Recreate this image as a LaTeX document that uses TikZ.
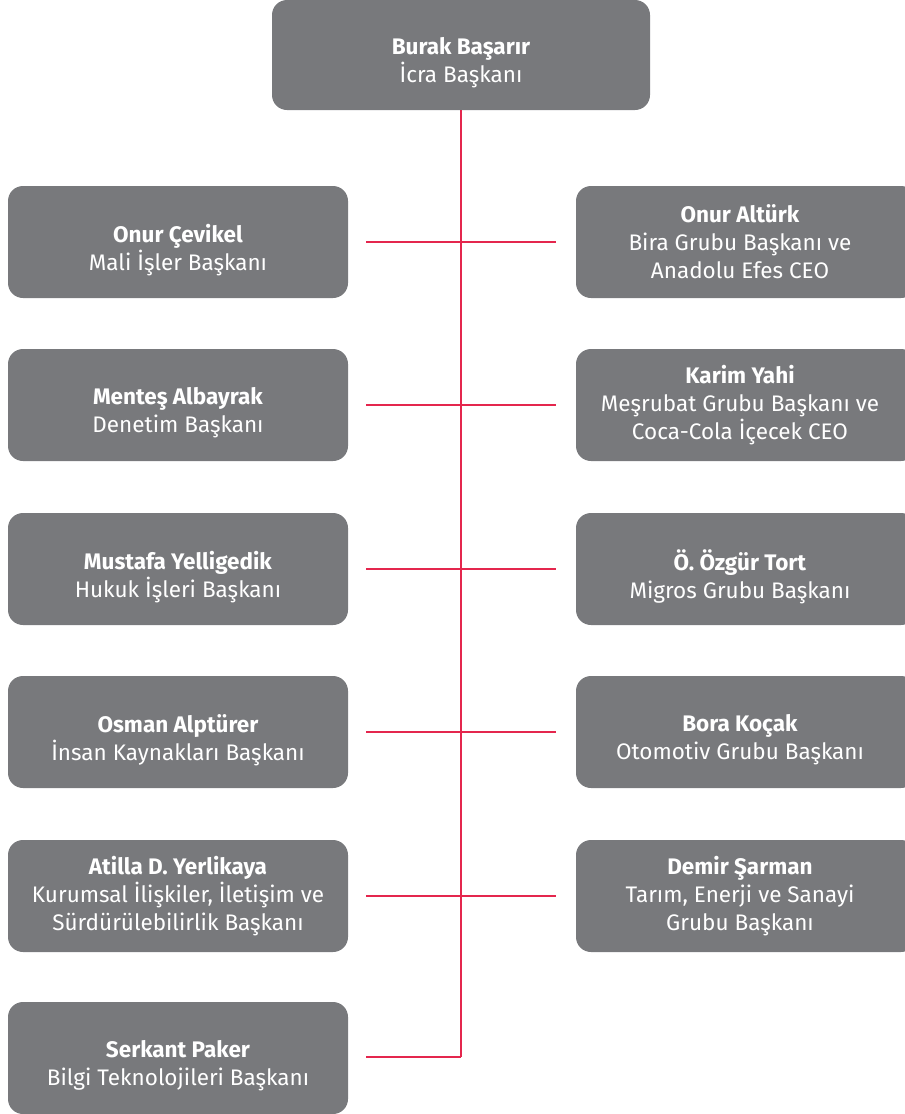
\documentclass[tikz,border=0pt]{standalone}
\usepackage{fontspec}
\setmainfont{Fira Sans}
\definecolor{boxgray}{HTML}{78797C}
\definecolor{linered}{HTML}{E4264D}
\begin{document}
\begin{tikzpicture}[x=1pt,y=-1pt,
  box/.style={fill=boxgray,rounded corners=15pt,minimum width=340pt,minimum height=112pt,inner sep=0pt},
  txt/.style={text=white,align=center,font=\fontsize{22.5}{28}\selectfont},
  two/.style={txt,yshift=-8pt},
  conn/.style={draw=linered,line width=1.6pt}]
\useasboundingbox (0,0) rectangle (905,1114);
\clip (0,0) rectangle (905,1114);
% top
\node[box,minimum width=378pt,minimum height=110pt] (top) at (461,55) {};
\node[two] (topt) at (461,55) {\textbf{Burak Başarır}\\İcra Başkanı};
% left column
\node[box] (L1) at (178,242) {};
\node[two] (L1t) at (178,242) {\textbf{Onur Çevikel}\\Mali İşler Başkanı};
\node[box] (L2) at (178,405) {};
\node[two] (L2t) at (178,405) {\textbf{Menteş Albayrak}\\Denetim Başkanı};
\node[box] (L3) at (178,569) {};
\node[two] (L3t) at (178,569) {\textbf{Mustafa Yelligedik}\\Hukuk İşleri Başkanı};
\node[box] (L4) at (178,732) {};
\node[two] (L4t) at (178,732) {\textbf{Osman Alptürer}\\İnsan Kaynakları Başkanı};
\node[box] (L5) at (178,896) {};
\node[txt] (L5t) at (178,896) {\textbf{Atilla D. Yerlikaya}\\Kurumsal İlişkiler, İletişim ve\\Sürdürülebilirlik Başkanı};
\node[box] (L6) at (178,1058) {};
\node[two] (L6t) at (178,1058) {\textbf{Serkant Paker}\\Bilgi Teknolojileri Başkanı};
% right column
\node[box] (R1) at (746,242) {};
\node[txt] (R1t) at (740,242) {\textbf{Onur Altürk}\\Bira Grubu Başkanı ve\\Anadolu Efes CEO};
\node[box] (R2) at (746,405) {};
\node[txt] (R2t) at (740,405) {\textbf{Karim Yahi}\\Meşrubat Grubu Başkanı ve\\Coca-Cola İçecek CEO};
\node[box] (R3) at (746,569) {};
\node[two] (R3t) at (740,569) {\textbf{Ö. Özgür Tort}\\Migros Grubu Başkanı};
\node[box] (R4) at (746,732) {};
\node[two] (R4t) at (740,732) {\textbf{Bora Koçak}\\Otomotiv Grubu Başkanı};
\node[box] (R5) at (746,896) {};
\node[txt] (R5t) at (740,896) {\textbf{Demir Şarman}\\Tarım, Enerji ve Sanayi\\Grubu Başkanı};
% connectors
\coordinate (sp) at (461,1057);
\draw[conn] (top.south -| sp) -- (sp);
\draw[conn,shorten <=18pt] (L6.east |- sp) -- (sp);
\foreach \i in {1,...,5}{
  \draw[conn,shorten <=18pt,shorten >=20pt] (L\i.east) -- (R\i.west);
}
\end{tikzpicture}
\end{document}
